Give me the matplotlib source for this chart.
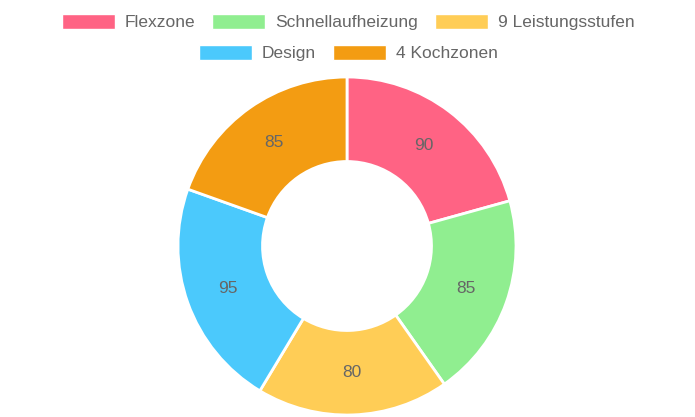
import matplotlib
matplotlib.use("Agg")
import matplotlib.pyplot as plt
from matplotlib.patches import Rectangle

labels = ["Flexzone", "Schnellaufheizung", "9 Leistungsstufen", "Design", "4 Kochzonen"]
values = [90, 85, 80, 95, 85]
colors = ["#FF6384", "#90EE90", "#FFCD56", "#4BC9FC", "#F39C12"]
legend_rows = [[0, 1, 2], [3, 4]]

W, H = 695, 417
fig = plt.figure(figsize=(W / 100, H / 100), dpi=100)
plt.rcParams['font.family'] = ['Liberation Sans', 'DejaVu Sans']

cx, cy, R = 347, 246, 169
ax = fig.add_axes([(cx - R) / W, (H - cy - R) / H, 2 * R / W, 2 * R / H])
total = sum(values)
wedges, texts, autotexts = ax.pie(
    values, colors=colors, startangle=90, counterclock=False, radius=1.0,
    wedgeprops=dict(width=0.5, edgecolor="white", linewidth=2),
    autopct=lambda p: f"{round(p * total / 100)}", pctdistance=0.75,
    textprops=dict(color="#666666", fontsize=12.5))
ax.set_xlim(-1, 1)
ax.set_ylim(-1, 1)
ax.set_aspect("equal")
ax.axis("off")

# Manual centered legend rows
fig.canvas.draw()
renderer = fig.canvas.get_renderer()
box_w, box_h, gap_text, gap_item = 53, 15, 10, 17
row_y = [21, 52]
fs = 12.5
for r, row in enumerate(legend_rows):
    widths = []
    for i in row:
        t = fig.text(0, 0, labels[i], fontsize=fs)
        bb = t.get_window_extent(renderer)
        widths.append(bb.width)
        t.remove()
    total_w = sum(box_w + gap_text + w for w in widths) + gap_item * (len(row) - 1)
    x = 348 - total_w / 2
    y = row_y[r]
    for i, w in zip(row, widths):
        fig.patches.append(Rectangle(((x) / W, (H - y - box_h / 2) / H), box_w / W, box_h / H,
                                     transform=fig.transFigure, facecolor=colors[i],
                                     edgecolor="white", linewidth=1))
        fig.text((x + box_w + gap_text) / W, (H - y) / H, labels[i], fontsize=fs,
                 color="#666666", va="center_baseline", ha="left")
        x += box_w + gap_text + w + gap_item

fig.savefig("out.png", dpi=100)
